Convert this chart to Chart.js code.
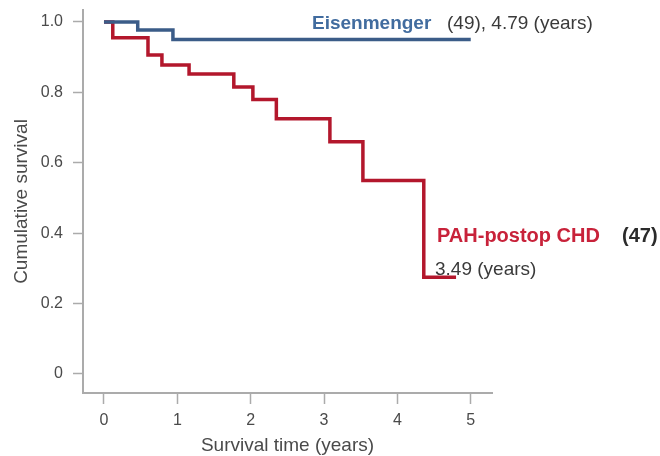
<!DOCTYPE html>
<html lang="en">
<head>
  <meta charset="UTF-8" />
  <title>Cumulative survival</title>
  <script src="https://cdn.jsdelivr.net/npm/chart.js"></script>
  <style>
    body {
      margin: 0;
      background: #fff;
    }
    .wrap {
      width: 660px;
      height: 456px;
    }
  </style>
</head>
<body>
  <div class="wrap">
    <canvas id="kmChart" width="660" height="456"></canvas>
  </div>

  <script>
    // Kaplan-Meier steps
    const eisenTimes = [0, 0.46, 0.94, 5.0];
    const eisenSurv = [1, 0.977, 0.95, 0.95];

    const pahTimes = [0, 0.12, 0.6, 0.79, 1.16, 1.77, 2.03, 2.35, 3.08, 3.53, 4.36, 4.8];
    const pahSurv = [1, 0.955, 0.906, 0.878, 0.852, 0.815, 0.78, 0.725, 0.66, 0.55, 0.275, 0.275];

    const xTicks = [0, 1, 2, 3, 4, 5];
    const yTicks = [0, 0.2, 0.4, 0.6, 0.8, 1.0];

    const FONT = "'Liberation Sans', Arial, Helvetica, sans-serif";
    const AXIS = '#ababab';
    const BLUE = '#3b5c88';
    const RED = '#b3172c';

    const toPoints = (xs, ys) => xs.map((x, i) => ({ x: x, y: ys[i] }));

    // text labels next to the curves
    const curveLabels = {
      id: 'curveLabels',
      afterDatasetsDraw(chart) {
        const c = chart.ctx;
        c.save();
        c.textBaseline = 'middle';
        c.textAlign = 'left';

        c.font = 'bold 19px ' + FONT;
        c.fillStyle = '#416c9f';
        c.fillText('Eisenmenger', 312, 24);
        c.font = '19px ' + FONT;
        c.fillStyle = '#3a3a3a';
        c.fillText('(49), 4.79 (years)', 447, 24);

        c.font = 'bold 20px ' + FONT;
        c.fillStyle = '#c8223a';
        c.fillText('PAH-postop CHD', 437, 236);
        c.fillStyle = '#2b2b2b';
        c.fillText('(47)', 622, 236);
        c.font = '19px ' + FONT;
        c.fillStyle = '#3a3a3a';
        c.fillText('3.49 (years)', 435, 270);
        c.restore();
      }
    };

    const ctx = document.getElementById('kmChart').getContext('2d');
    new Chart(ctx, {
      type: 'scatter',
      data: {
        datasets: [
          {
            label: 'Eisenmenger',
            data: toPoints(eisenTimes, eisenSurv),
            showLine: true,
            stepped: 'before',
            borderColor: BLUE,
            borderWidth: 3.5,
            pointRadius: 0,
            fill: false
          },
          {
            label: 'PAH-postop CHD',
            data: toPoints(pahTimes, pahSurv),
            showLine: true,
            stepped: 'before',
            borderColor: RED,
            borderWidth: 3.5,
            pointRadius: 0,
            fill: false
          }
        ]
      },
      options: {
        responsive: false,
        animation: false,
        layout: {
          padding: { left: 0, top: 10, right: 168, bottom: 0 }
        },
        plugins: {
          legend: { display: false },
          tooltip: { enabled: false }
        },
        scales: {
          x: {
            type: 'linear',
            min: -0.286,
            max: 5.29,
            afterFit: s => { s.height = 63; s.paddingLeft = 0; s.paddingRight = 0; },
            afterBuildTicks: s => { s.ticks = xTicks.map(v => ({ value: v })); },
            grid: {
              drawOnChartArea: false,
              drawTicks: true,
              tickLength: 11,
              tickColor: AXIS,
              tickWidth: 1.5
            },
            border: { display: true, color: AXIS, width: 2 },
            ticks: {
              padding: 7,
              color: '#4a4a4a',
              font: { family: FONT, size: 16 },
              callback: v => String(v)
            },
            title: {
              display: true,
              text: 'Survival time (years)',
              color: '#4a4a4a',
              font: { family: FONT, size: 19, lineHeight: 1 },
              padding: { top: 0, bottom: 1 }
            }
          },
          y: {
            type: 'linear',
            min: -0.054,
            max: 1.034,
            afterFit: s => { s.width = 83; s.paddingTop = 0; s.paddingBottom = 0; },
            afterBuildTicks: s => { s.ticks = yTicks.map(v => ({ value: v })); },
            grid: {
              drawOnChartArea: false,
              drawTicks: true,
              tickLength: 10,
              tickColor: AXIS,
              tickWidth: 1.5
            },
            border: { display: true, color: AXIS, width: 2 },
            ticks: {
              padding: 10,
              color: '#4a4a4a',
              font: { family: FONT, size: 16 },
              callback: v => (v === 0 ? '0' : v.toFixed(1))
            },
            title: {
              display: true,
              text: 'Cumulative survival',
              color: '#4a4a4a',
              font: { family: FONT, size: 19, lineHeight: 1 },
              padding: { top: 12, bottom: 0 }
            }
          }
        }
      },
      plugins: [curveLabels]
    });
  </script>
</body>
</html>
